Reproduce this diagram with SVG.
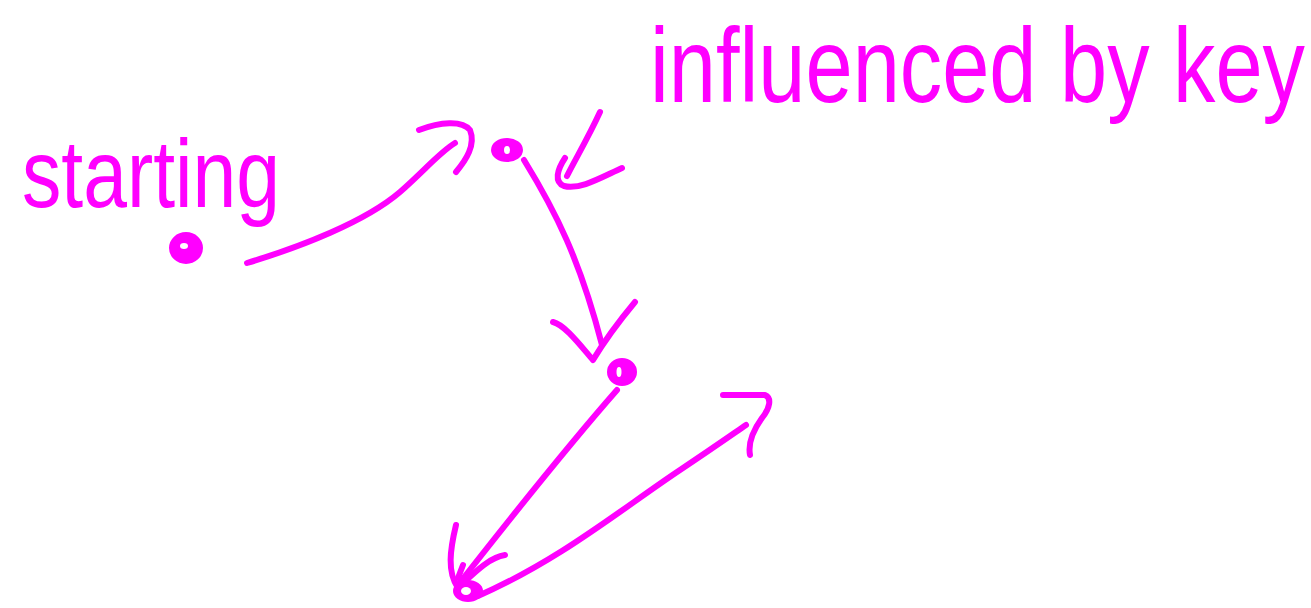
<svg xmlns="http://www.w3.org/2000/svg" width="1311" height="608" viewBox="0 0 1311 608">
<style>
.ink{fill:none;stroke:#ff00ff;stroke-width:6;stroke-linecap:round;stroke-linejoin:round}
.dot{fill:#ff00ff;stroke:#ff00ff;stroke-width:4}
.hole{fill:#ffffff}
.lbl{fill:#ff00ff;font-family:"Liberation Sans","DejaVu Sans",sans-serif}
</style>
<rect width="1311" height="608" fill="#ffffff"/>
<g id="label-starting" transform="translate(22,207) scale(1,1.2)"><text class="lbl" x="0" y="0" font-size="80" textLength="258" lengthAdjust="spacingAndGlyphs">starting</text></g>
<g id="label-influenced" transform="translate(650,102) scale(1,1.25)"><text class="lbl" x="0" y="0" font-size="84" textLength="655" lengthAdjust="spacingAndGlyphs">influenced by key</text></g>
<g id="node-start"><ellipse class="dot" cx="186" cy="248" rx="15" ry="14"/><ellipse class="hole" cx="184" cy="246" rx="4" ry="3"/></g>
<g id="node-2"><ellipse class="dot" cx="507" cy="150" rx="14" ry="10"/><ellipse class="hole" cx="507" cy="150" rx="3" ry="4"/></g>
<g id="node-3"><ellipse class="dot" cx="622" cy="372" rx="13" ry="12"/><ellipse class="hole" cx="619" cy="372" rx="2.5" ry="5"/></g>
<g id="node-4"><ellipse class="dot" cx="468" cy="591" rx="13" ry="9"/><ellipse class="hole" cx="466" cy="591" rx="5" ry="4"/></g>
<g id="connectors">
<path class="ink" d="M247,263 C300,247 365,222 400,192 C425,170 440,152 455,143"/>
<path class="ink" d="M419,130 C440,122 462,120 470,130 C476,145 466,160 456,172"/>
<path class="ink" d="M600,112 C588,138 576,158 567,176"/>
<path class="ink" d="M565,158 C557,170 554,182 564,186 C580,190 600,178 622,168"/>
<path class="ink" d="M524,160 C556,212 580,260 602,345"/>
<path class="ink" d="M553,322 C565,325 580,345 593,360 C605,340 620,320 635,302"/>
<path class="ink" d="M617,390 C560,455 505,525 458,585"/>
<path class="ink" d="M456,525 C450,550 447,572 458,588"/>
<path class="ink" d="M505,555 C490,557 475,572 460,586"/>
<path class="ink" d="M463,565 L458,578"/>
<path class="ink" d="M478,596 C560,560 620,510 680,470 C710,450 730,436 746,425"/>
<path class="ink" d="M723,395 L765,395 C772,398 770,408 762,418 C752,432 748,444 750,455"/>
</g>
</svg>
